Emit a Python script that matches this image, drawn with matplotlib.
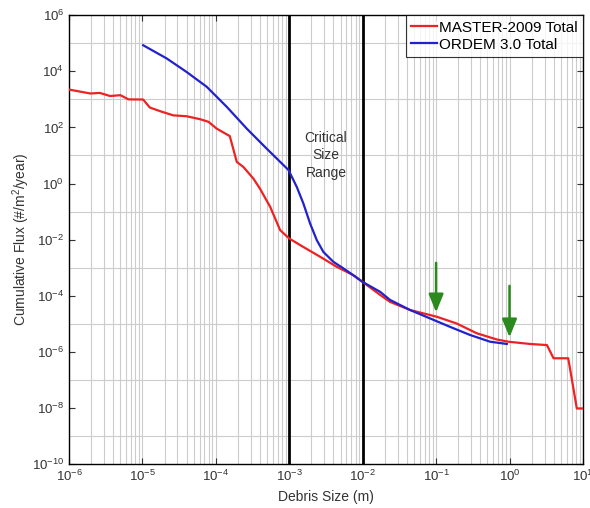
import numpy as np
import matplotlib.pyplot as plt
from matplotlib.ticker import FixedLocator, NullFormatter

plt.rcParams['font.family'] = ['Liberation Sans', 'DejaVu Sans']
plt.rcParams['mathtext.fontset'] = 'custom'
plt.rcParams['mathtext.rm'] = 'Liberation Sans'
plt.rcParams['mathtext.it'] = 'Liberation Sans:italic'
plt.rcParams['mathtext.default'] = 'regular'

# MASTER-2009 total, log10 values
master_logx = [-6.0, -5.71, -5.58, -5.44, -5.30, -5.19, -4.99, -4.90, -4.76, -4.58,
               -4.40, -4.21, -4.10, -3.99, -3.81, -3.715, -3.625, -3.49, -3.40, -3.26,
               -3.125, -3.0, -2.81, -2.58, -2.353, -2.127, -2.0, -1.763, -1.627,
               -1.354, -0.99, -0.72, -0.445, -0.173, -0.015, 0.28, 0.51, 0.60,
               0.80, 0.917, 1.0]
master_logy = [3.35, 3.21, 3.23, 3.12, 3.15, 3.0, 2.995, 2.71, 2.58, 2.43,
               2.40, 2.29, 2.20, 1.96, 1.69, 0.77, 0.59, 0.18, -0.18, -0.83,
               -1.66, -1.96, -2.26, -2.61, -2.97, -3.27, -3.51, -3.97, -4.22,
               -4.51, -4.75, -4.99, -5.34, -5.56, -5.64, -5.72, -5.76, -6.23,
               -6.23, -8.02, -8.02]

# ORDEM 3.0 total
ordem_logx = [-4.99, -4.67, -4.40, -4.125, -3.85, -3.58, -3.31, -3.01, -2.898,
              -2.808, -2.717, -2.625, -2.535, -2.40, -2.26, -2.127, -2.0, -1.763,
              -1.627, -1.354, -1.082, -0.81, -0.537, -0.264, -0.037]
ordem_logy = [4.93, 4.46, 3.98, 3.45, 2.73, 1.96, 1.25, 0.48, -0.12,
              -0.71, -1.42, -2.02, -2.44, -2.79, -3.03, -3.27, -3.51, -3.86,
              -4.15, -4.51, -4.81, -5.11, -5.40, -5.64, -5.72]

critical_bounds = [1e-3, 1e-2]
arrow_x = [0.1, 1.0]
arrow_top = [10**-2.73, 10**-3.55]
arrow_tip = [10**-4.69, 10**-5.58]

fig = plt.figure(figsize=(5.9, 5.08), dpi=100)
ax = fig.add_axes([0.117, 0.0866, 0.871, 0.8834])

grid_c = '#cccccc'
ax.set_xscale('log')
ax.set_yscale('log')
ax.set_xlim(1e-6, 10)
ax.set_ylim(1e-10, 1e6)

xmaj = [10.0**k for k in range(-6, 2)]
xmin = [m * 10.0**k for k in range(-6, 1) for m in range(2, 10)]
ax.xaxis.set_major_locator(FixedLocator(xmaj))
ax.xaxis.set_minor_locator(FixedLocator(xmin))
ax.set_xticklabels([r'$10^{%d}$' % k for k in range(-6, 2)])
ax.xaxis.set_minor_formatter(NullFormatter())

ymaj = [10.0**k for k in range(-10, 7, 2)]
ymin = [10.0**k for k in range(-9, 6, 2)]
ax.yaxis.set_major_locator(FixedLocator(ymaj))
ax.yaxis.set_minor_locator(FixedLocator(ymin))
ax.set_yticklabels([r'$10^{%d}$' % k for k in range(-10, 7, 2)])
ax.yaxis.set_minor_formatter(NullFormatter())

for xv in xmaj + xmin:
    ax.axvline(xv, color=grid_c, lw=0.8, zorder=0)
for yv in ymin:
    ax.axhline(yv, color=grid_c, lw=0.8, zorder=0)

ax.tick_params(which='both', direction='in', top=True, right=True,
               labelsize=9.5, colors='#333333', length=4)
ax.tick_params(which='minor', length=0)

for b in critical_bounds:
    ax.axvline(b, color='black', lw=2, zorder=2)

ax.plot(10**np.array(master_logx), 10**np.array(master_logy), color='#ee2222',
        lw=1.6, label='MASTER-2009 Total', zorder=3)
ax.plot(10**np.array(ordem_logx), 10**np.array(ordem_logy), color='#2222cc',
        lw=1.6, label='ORDEM 3.0 Total', zorder=3)

for xa, yt, yb in zip(arrow_x, arrow_top, arrow_tip):
    ax.annotate('', xy=(xa, yb), xytext=(xa, yt),
                arrowprops=dict(arrowstyle='-|>,head_length=1.1,head_width=0.45',
                                color='#2a8a1e', lw=1.8), zorder=4)

ax.text(10**-2.5, 10**1.0, 'Critical\nSize\nRange', ha='center', va='center',
        fontsize=10, color='#333333', linespacing=1.3)

ax.set_xlabel('Debris Size (m)', fontsize=10, color='#333333', labelpad=4)
ax.set_ylabel('Cumulative Flux (#/m$^2$/year)', fontsize=10, color='#333333')
ax.yaxis.set_label_coords(-0.072, 0.5)

leg = ax.legend(loc='upper right', fontsize=11, frameon=True, fancybox=False,
                borderaxespad=0, handlelength=1.7, handletextpad=0.1,
                borderpad=0.35, labelspacing=0.2)
leg.get_frame().set_edgecolor('black')
leg.get_frame().set_linewidth(0.8)

for s in ax.spines.values():
    s.set_linewidth(1.0)

fig.savefig('out.png', dpi=100)
